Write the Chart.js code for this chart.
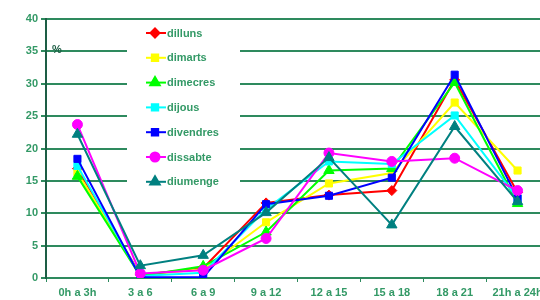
<!DOCTYPE html>
<html>
<head>
<meta charset="utf-8">
<script src="https://cdn.jsdelivr.net/npm/chart.js@4"></script>
<style>
  html, body { margin: 0; padding: 0; background: #fff; overflow: hidden; }
  #caixa { width: 556px; height: 300px; }
</style>
</head>
<body>
<div id="caixa"><canvas id="graficHores"></canvas></div>
<script>
// franges horàries
const franges = ['0h a 3h', '3 a 6', '6 a 9', '9 a 12', '12 a 15', '15 a 18', '18 a 21', '21h a 24h'];

// percentatges per dia de la setmana
const dilluns   = [16.9, 0.5, 1.5, 11.6, 12.8, 13.5, 30.6, 13.2];
const dimarts   = [16.3, 0.4, 1.4, 8.6, 14.6, 16.2, 27.1, 16.6];
const dimecres  = [15.7, 0.3, 1.8, 7.1, 16.6, 16.9, 30.2, 11.5];
const dijous    = [17.3, 0.3, 0.8, 10.6, 18.0, 17.6, 25.1, 12.3];
const divendres = [18.4, 0.1, 0.1, 11.4, 12.7, 15.5, 31.4, 12.3];
const dissabte  = [23.7, 0.7, 1.2, 6.1, 19.3, 18.0, 18.5, 13.5];
const diumenge  = [22.2, 1.9, 3.5, 10.1, 18.6, 8.2, 23.4, 11.8];

const noms = ['dilluns', 'dimarts', 'dimecres', 'dijous', 'divendres', 'dissabte', 'diumenge'];
const series = [dilluns, dimarts, dimecres, dijous, divendres, dissabte, diumenge];
const colors = ['#ff0000', '#ffff00', '#00ff00', '#00ffff', '#0000ff', '#ff00ff', '#008080'];
const punts = ['rectRot', 'rect', 'triangle', 'rect', 'rect', 'circle', 'triangle'];
const mides = [5, 5, 6, 5, 5, 5, 6];

const verdText = '#339966';
const verdGraella = '#2e8a5e';
const verdFosc = '#1d5e45';

// llegenda dibuixada a mà (línia + marcador, com l'original)
const llegenda = {
    id: 'llegenda',
    beforeDatasetsDraw(chart) {
        const c = chart.ctx;
        c.save();
        c.fillStyle = '#ffffff';
        c.fillRect(127, 24, 113, 168);
        c.restore();
    },
    afterDraw(chart) {
        const c = chart.ctx;
        c.save();
        noms.forEach((nom, i) => {
            const y = 33 + i * 24.8;
            c.strokeStyle = colors[i];
            c.lineWidth = 2;
            c.beginPath();
            c.moveTo(146, y);
            c.lineTo(166, y);
            c.stroke();
            c.fillStyle = colors[i];
            Chart.helpers.drawPoint(c, {
                pointStyle: punts[i], radius: mides[i] - 0.5, borderWidth: 1, rotation: 0
            }, 155, y);
            c.fillStyle = verdText;
            c.font = 'bold 11px "Liberation Sans", Arial, sans-serif';
            c.textBaseline = 'middle';
            c.textAlign = 'left';
            c.fillText(nom, 167, y + 0.5);
        });
        // símbol del percentatge
        c.fillStyle = verdFosc;
        c.font = 'bold 11px "Liberation Sans", Arial, sans-serif';
        c.textAlign = 'left';
        c.textBaseline = 'middle';
        c.fillText('%', 52, 50);
        c.restore();
    }
};

const ctx = document.getElementById('graficHores');

const config = {
    type: 'line',
    data: {
        labels: franges,
        datasets: series.map((dades, i) => ({
            label: noms[i],
            data: dades,
            borderColor: colors[i],
            backgroundColor: colors[i],
            borderWidth: 2,
            pointStyle: punts[i],
            pointRadius: mides[i],
            pointBorderWidth: 1,
            tension: 0,
            order: 6 - i // l'últim dia queda a sobre
        }))
    },
    options: {
        responsive: true,
        maintainAspectRatio: false,
        animation: false,
        layout: { padding: { top: 19, right: 2, left: 0, bottom: 0 } },
        plugins: {
            legend: { display: false },
            tooltip: { enabled: false }
        },
        scales: {
            x: {
                offset: true,
                grid: {
                    offset: true,
                    drawOnChartArea: false,
                    tickLength: 4,
                    color: verdGraella,
                    lineWidth: 1
                },
                border: { display: true, color: verdGraella, width: 2 },
                ticks: {
                    color: verdText,
                    font: { family: '"Liberation Sans", Arial, sans-serif', size: 11, weight: 'bold' },
                    maxRotation: 0,
                    autoSkip: false,
                    padding: 4
                },
                afterFit(scale) {
                    scale.height = 22;
                    scale.paddingLeft = 0;
                    scale.paddingRight = 0;
                }
            },
            y: {
                min: 0,
                max: 40,
                ticks: {
                    stepSize: 5,
                    color: verdText,
                    font: { family: '"Liberation Sans", Arial, sans-serif', size: 11, weight: 'bold' },
                    padding: 3
                },
                grid: {
                    color: verdGraella,
                    lineWidth: 2,
                    tickLength: 5
                },
                border: { display: true, color: verdFosc, width: 2 },
                afterFit(scale) {
                    scale.width = 46;
                    scale.paddingTop = 0;
                    scale.paddingBottom = 0;
                }
            }
        }
    },
    plugins: [llegenda]
};

const graficHores = new Chart(ctx, config);
</script>
</body>
</html>
